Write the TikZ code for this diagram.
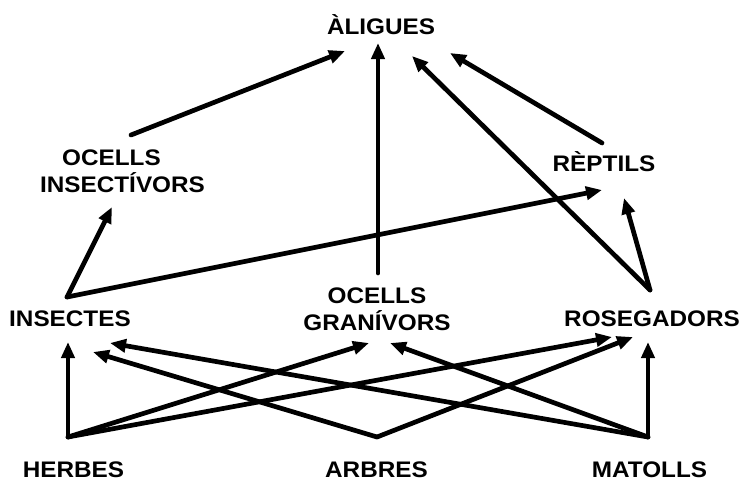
\documentclass[tikz,border=0pt]{standalone}
\usepackage{fontspec}
\setmainfont{Liberation Sans}[FakeStretch=1.08]
\usetikzlibrary{arrows.meta}
\begin{document}
\begin{tikzpicture}[x=1pt,y=-1pt,
  lbl/.style={anchor=base, inner sep=0pt, align=center,
    font=\bfseries\fontsize{22.5}{27}\selectfont},
  arr/.style={line width=4.7pt, line cap=round, line join=round,
    -{Triangle[length=16pt,width=13pt]}}]
\useasboundingbox (0,0) rectangle (743,482);
% species
\node[lbl] (aligues) at (381,34) {ÀLIGUES};
\node[lbl] (ocins) at (122.5,192) {\hspace*{-22pt}OCELLS\\INSECTÍVORS};
\node[lbl] (reptils) at (604,171) {RÈPTILS};
\node[lbl] (insectes) at (70,326) {INSECTES};
\node[lbl] (ocgra) at (377,330) {OCELLS\\GRANÍVORS};
\node[lbl] (rosegadors) at (652,326) {ROSEGADORS};
\node[lbl] (herbes) at (73.5,477) {HERBES};
\node[lbl] (arbres) at (376.5,477) {ARBRES};
\node[lbl] (matolls) at (649.5,477) {MATOLLS};
% ports (where arrows leave a node)
\coordinate (hP) at (68,437);
\coordinate (aP) at (377,437);
\coordinate (mP) at (648,437);
\coordinate (iP) at (67,297);
\coordinate (rP) at (650,290);
\coordinate (oiP) at (131,135);
\coordinate (ogP) at (378,273);
\coordinate (reP) at (602,143);
% arrow targets
\coordinate (alOI) at (345,51);
\coordinate (alOG) at (378,43);
\coordinate (alRO) at (412,56);
\coordinate (alRE) at (450,53);
\coordinate (oiI) at (112,207);
\coordinate (reI) at (602,190);
\coordinate (reR) at (624,198);
\coordinate (inH) at (68,342);
\coordinate (inA) at (93,352);
\coordinate (inM) at (110,343);
\coordinate (ogH) at (369,343);
\coordinate (ogM) at (390,343);
\coordinate (roH) at (612,337);
\coordinate (roA) at (633,337);
\coordinate (roM) at (648,342);
% food web
\draw[arr] (oiP) -- (alOI);
\draw[arr] (ogP) -- (alOG);
\draw[arr] (rP) -- (alRO);
\draw[arr] (reP) -- (alRE);
\draw[arr] (iP) -- (oiI);
\draw[arr] (iP) -- (reI);
\draw[arr] (rP) -- (reR);
\draw[arr] (hP) -- (inH);
\draw[arr] (hP) -- (ogH);
\draw[arr] (hP) -- (roH);
\draw[arr] (aP) -- (inA);
\draw[arr] (aP) -- (roA);
\draw[arr] (mP) -- (inM);
\draw[arr] (mP) -- (ogM);
\draw[arr] (mP) -- (roM);
\end{tikzpicture}
\end{document}
